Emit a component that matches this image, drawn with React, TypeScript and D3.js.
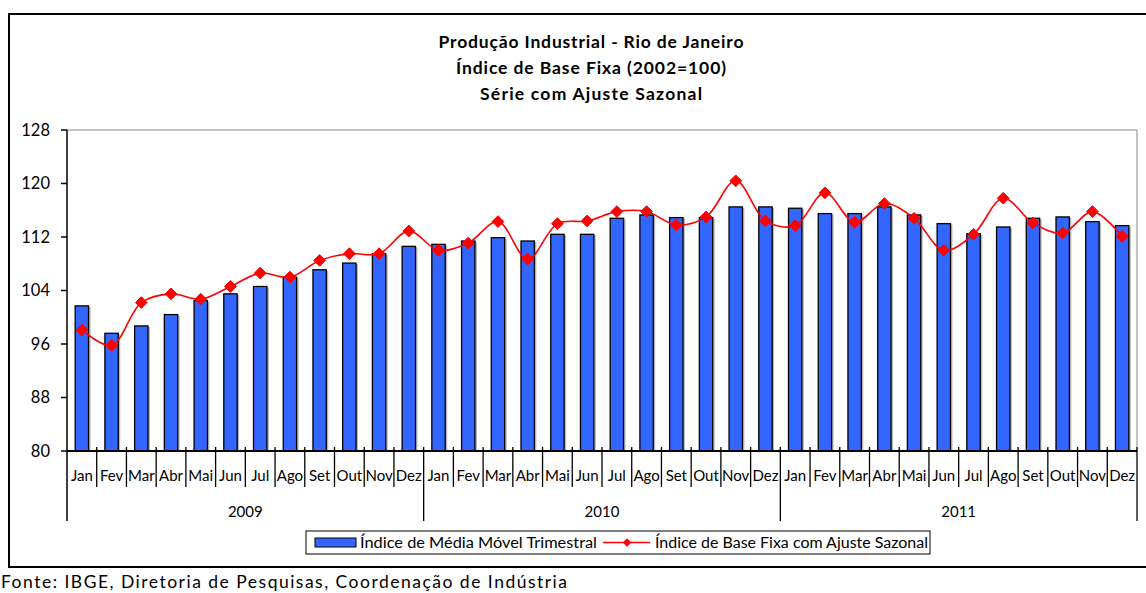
import { useMemo } from 'react';
import * as d3 from 'd3';

// ----------------------------------------------------------------------------
// Produção Industrial - Rio de Janeiro (2009-2011), série com ajuste sazonal
// ----------------------------------------------------------------------------

const MESES = ['Jan', 'Fev', 'Mar', 'Abr', 'Mai', 'Jun', 'Jul', 'Ago', 'Set', 'Out', 'Nov', 'Dez'];
const ANOS = ['2009', '2010', '2011'];

// Índice de Média Móvel Trimestral (barras)
const MEDIA_MOVEL = [
  101.7, 97.6, 98.7, 100.4, 102.5, 103.5, 104.6, 106.0, 107.1, 108.1, 109.5, 110.6,
  110.9, 111.4, 111.9, 111.4, 112.4, 112.4, 114.8, 115.3, 114.9, 114.9, 116.5, 116.5,
  116.3, 115.5, 115.5, 116.5, 115.3, 114.0, 112.5, 113.5, 114.8, 115.0, 114.3, 113.7,
];

// Índice de Base Fixa com Ajuste Sazonal (linha)
const BASE_FIXA = [
  98.1, 95.8, 102.2, 103.5, 102.7, 104.6, 106.6, 106.0, 108.5, 109.5, 109.5, 112.9,
  110.0, 111.1, 114.3, 108.7, 114.0, 114.4, 115.8, 115.8, 113.8, 115.0, 120.4, 114.4,
  113.7, 118.6, 114.2, 117.0, 114.8, 110.0, 112.4, 117.8, 114.1, 112.6, 115.8, 112.1,
];

const Y_TICKS = [80, 88, 96, 104, 112, 120, 128];

const TITULO = ['Produção Industrial - Rio de Janeiro', 'Índice de Base Fixa (2002=100)', 'Série com Ajuste Sazonal'];
const LEGENDA_BARRA = 'Índice de Média Móvel Trimestral';
const LEGENDA_LINHA = 'Índice de Base Fixa com Ajuste Sazonal';
const FONTE = 'Fonte: IBGE, Diretoria de Pesquisas, Coordenação de Indústria';

const W = 1146;
const H = 593;
const FONT = 'Lato, "Open Sans", sans-serif';
const AZUL = '#3366FF';
const VERMELHO = '#FF0000';

interface Ponto {
  key: string;
  mes: string;
  ano: string;
  barra: number;
  linha: number;
}

export default function App() {
  const pontos: Ponto[] = useMemo(
    () =>
      ANOS.flatMap((ano, ai) =>
        MESES.map((mes, mi) => ({
          key: `${ano}-${mi}`,
          mes,
          ano,
          barra: MEDIA_MOVEL[ai * 12 + mi],
          linha: BASE_FIXA[ai * 12 + mi],
        }))
      ),
    []
  );

  const plot = { left: 67, right: 1137, top: 130, bottom: 451 };

  const x = d3
    .scaleBand<string>()
    .domain(pontos.map((p) => p.key))
    .range([plot.left, plot.right])
    .padding(0);

  const y = d3.scaleLinear().domain([80, 128]).range([plot.bottom, plot.top]);

  const xAno = d3.scaleBand<string>().domain(ANOS).range([plot.left, plot.right]).padding(0);

  const barW = x.bandwidth() * 0.45;
  const cx = (k: string) => (x(k) || 0) + x.bandwidth() / 2;

  const linha = d3
    .line<Ponto>()
    .x((d) => cx(d.key))
    .y((d) => y(d.linha))
    .curve(d3.curveCatmullRom.alpha(0.5));

  const diamante = d3.symbol().type(d3.symbolDiamond2).size(88)() || '';
  const diamanteLeg = d3.symbol().type(d3.symbolDiamond2).size(45)() || '';

  // legend layout
  const leg = { x: 306, y: 531, w: 624, h: 23 };
  const titleW = [305, 270, 222];

  return (
    <svg
      width={W}
      height={H}
      style={{ position: 'absolute', left: 0, top: 0, background: '#fff' }}
      fontFamily={FONT}
    >
      {/* moldura */}
      <rect x={9} y={14} width={W + 10} height={553} fill="#fff" stroke="#000" strokeWidth={2} />

      {/* título */}
      {TITULO.map((t, i) => (
        <text
          key={t}
          x={591}
          y={48 + i * 26}
          textAnchor="middle"
          fontSize={17.5}
          fontWeight={700}
          fill="#000"
          textLength={titleW[i]}
          lengthAdjust="spacing"
        >
          {t}
        </text>
      ))}

      {/* borda da área de plotagem */}
      <line x1={plot.left} x2={plot.right} y1={plot.top} y2={plot.top} stroke="#888" strokeWidth={1} />
      <line x1={plot.right} x2={plot.right} y1={plot.top} y2={plot.bottom} stroke="#888" strokeWidth={1} />

      {/* eixo Y */}
      <line x1={plot.left} x2={plot.left} y1={plot.top} y2={521} stroke="#000" strokeWidth={1.5} />
      {Y_TICKS.map((t) => (
        <g key={t}>
          <line x1={plot.left - 6} x2={plot.left} y1={y(t)} y2={y(t)} stroke="#000" strokeWidth={1.5} />
          <text x={plot.left - 17} y={y(t)} dy="0.35em" textAnchor="end" fontSize={16.5} fill="#000">
            {t}
          </text>
        </g>
      ))}

      {/* barras */}
      {pontos.map((p) => {
        const bx = cx(p.key) - barW / 2;
        const by = y(p.barra);
        return (
          <g key={p.key}>
            <rect x={bx + 2} y={by + 1} width={barW} height={plot.bottom - by - 1} fill="#b8b8b8" />
            <rect
              x={bx}
              y={by}
              width={barW}
              height={plot.bottom - by}
              fill={AZUL}
              stroke="#000"
              strokeWidth={1.3}
            />
          </g>
        );
      })}

      {/* eixo X */}
      <line x1={plot.left} x2={plot.right} y1={plot.bottom} y2={plot.bottom} stroke="#000" strokeWidth={2} />
      {pontos.map((p, i) => (
        <g key={`t-${p.key}`}>
          {i > 0 && (
            <line
              x1={x(p.key) || 0}
              x2={x(p.key) || 0}
              y1={plot.bottom - 4}
              y2={i % 12 === 0 ? 521 : 487}
              stroke="#000"
              strokeWidth={1.3}
            />
          )}
          <text x={cx(p.key)} y={481} textAnchor="middle" fontSize={15} fill="#000">
            {p.mes}
          </text>
        </g>
      ))}
      <line x1={plot.right} x2={plot.right} y1={plot.bottom - 4} y2={521} stroke="#000" strokeWidth={1.3} />
      {ANOS.map((a) => (
        <text
          key={a}
          x={(xAno(a) || 0) + xAno.bandwidth() / 2}
          y={517}
          textAnchor="middle"
          fontSize={15}
          fill="#000"
        >
          {a}
        </text>
      ))}

      {/* linha */}
      <path d={linha(pontos) || ''} fill="none" stroke={VERMELHO} strokeWidth={1.6} />
      {pontos.map((p) => (
        <path
          key={`m-${p.key}`}
          d={diamante}
          transform={`translate(${cx(p.key)},${y(p.linha)})`}
          fill={VERMELHO}
          stroke={VERMELHO}
          strokeWidth={1}
        />
      ))}

      {/* legenda */}
      <rect x={leg.x} y={leg.y} width={leg.w} height={leg.h} fill="#fff" stroke="#000" strokeWidth={1} />
      <rect x={leg.x + 9} y={leg.y + 7} width={41} height={9} fill={AZUL} stroke="#000" strokeWidth={1} />
      <text x={leg.x + 54} y={leg.y + 16.5} fontSize={14.5} fill="#000" textLength={237} lengthAdjust="spacingAndGlyphs">
        {LEGENDA_BARRA}
      </text>
      <line x1={leg.x + 297} x2={leg.x + 344} y1={leg.y + 11.5} y2={leg.y + 11.5} stroke={VERMELHO} strokeWidth={1.6} />
      <path d={diamanteLeg} transform={`translate(${leg.x + 321},${leg.y + 11.5})`} fill={VERMELHO} />
      <text x={leg.x + 349} y={leg.y + 16.5} fontSize={14.5} fill="#000" textLength={273} lengthAdjust="spacingAndGlyphs">
        {LEGENDA_LINHA}
      </text>

      {/* fonte */}
      <text x={1} y={588} fontSize={17.5} fill="#000" textLength={566} lengthAdjust="spacing">
        {FONTE}
      </text>
    </svg>
  );
}
